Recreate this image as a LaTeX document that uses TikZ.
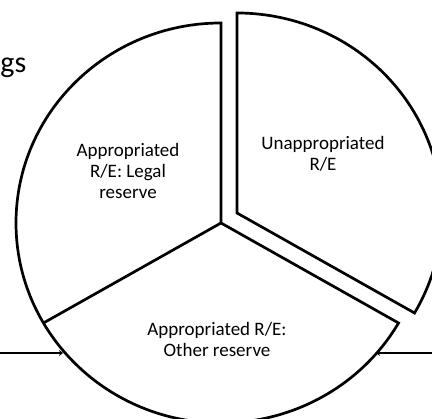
\documentclass[tikz,border=0pt]{standalone}
\usepackage{fontspec}
\setmainfont{Carlito}
\usetikzlibrary{arrows.meta}
\begin{document}
\begin{tikzpicture}[x=1pt,y=1pt,
  slice/.style={draw=black,line width=2.7pt,fill=white,line join=miter},
  lbl/.style={align=center,inner sep=0pt,font=\fontsize{19}{21}\selectfont},
  feed/.style={draw=black,line width=2.5pt,-{Stealth[length=4pt,width=6pt]}}]
\useasboundingbox (0,0) rectangle (432,419);
\coordinate (C) at (221,196);
\coordinate (E) at (237,206);
% main pie: legal reserve + other reserve
\path[slice] (C) -- ++(0,200) arc[start angle=90,end angle=330,x radius=205,y radius=200] -- cycle;
\draw[line width=2.7pt] (C) -- ++({205*cos(210)},{200*sin(210)});
% exploded slice
\path[slice] (E) -- ++({205*cos(330)},{200*sin(330)}) arc[start angle=330,end angle=450,x radius=205,y radius=200] -- cycle;
% labels
\node[lbl] (legal) at (128,248) {Appropriated\\R/E: Legal\\reserve};
\node[lbl] (unapp) at (323,265.5) {Unappropriated\\R/E};
\node[lbl] (other) at (217,79.5) {Appropriated R/E:\\Other reserve};
\node[anchor=base east,inner sep=0pt,font=\fontsize{30}{36}\selectfont] (title) at (26.5,346) {gs};
% feeder lines
\coordinate (lstart) at (0,66);
\coordinate (lend) at (63,66);
\coordinate (rstart) at (432,66);
\coordinate (rend) at (376,66);
\draw[feed] (lstart) -- (lend);
\draw[feed] (rstart) -- (rend);
\end{tikzpicture}
\end{document}
